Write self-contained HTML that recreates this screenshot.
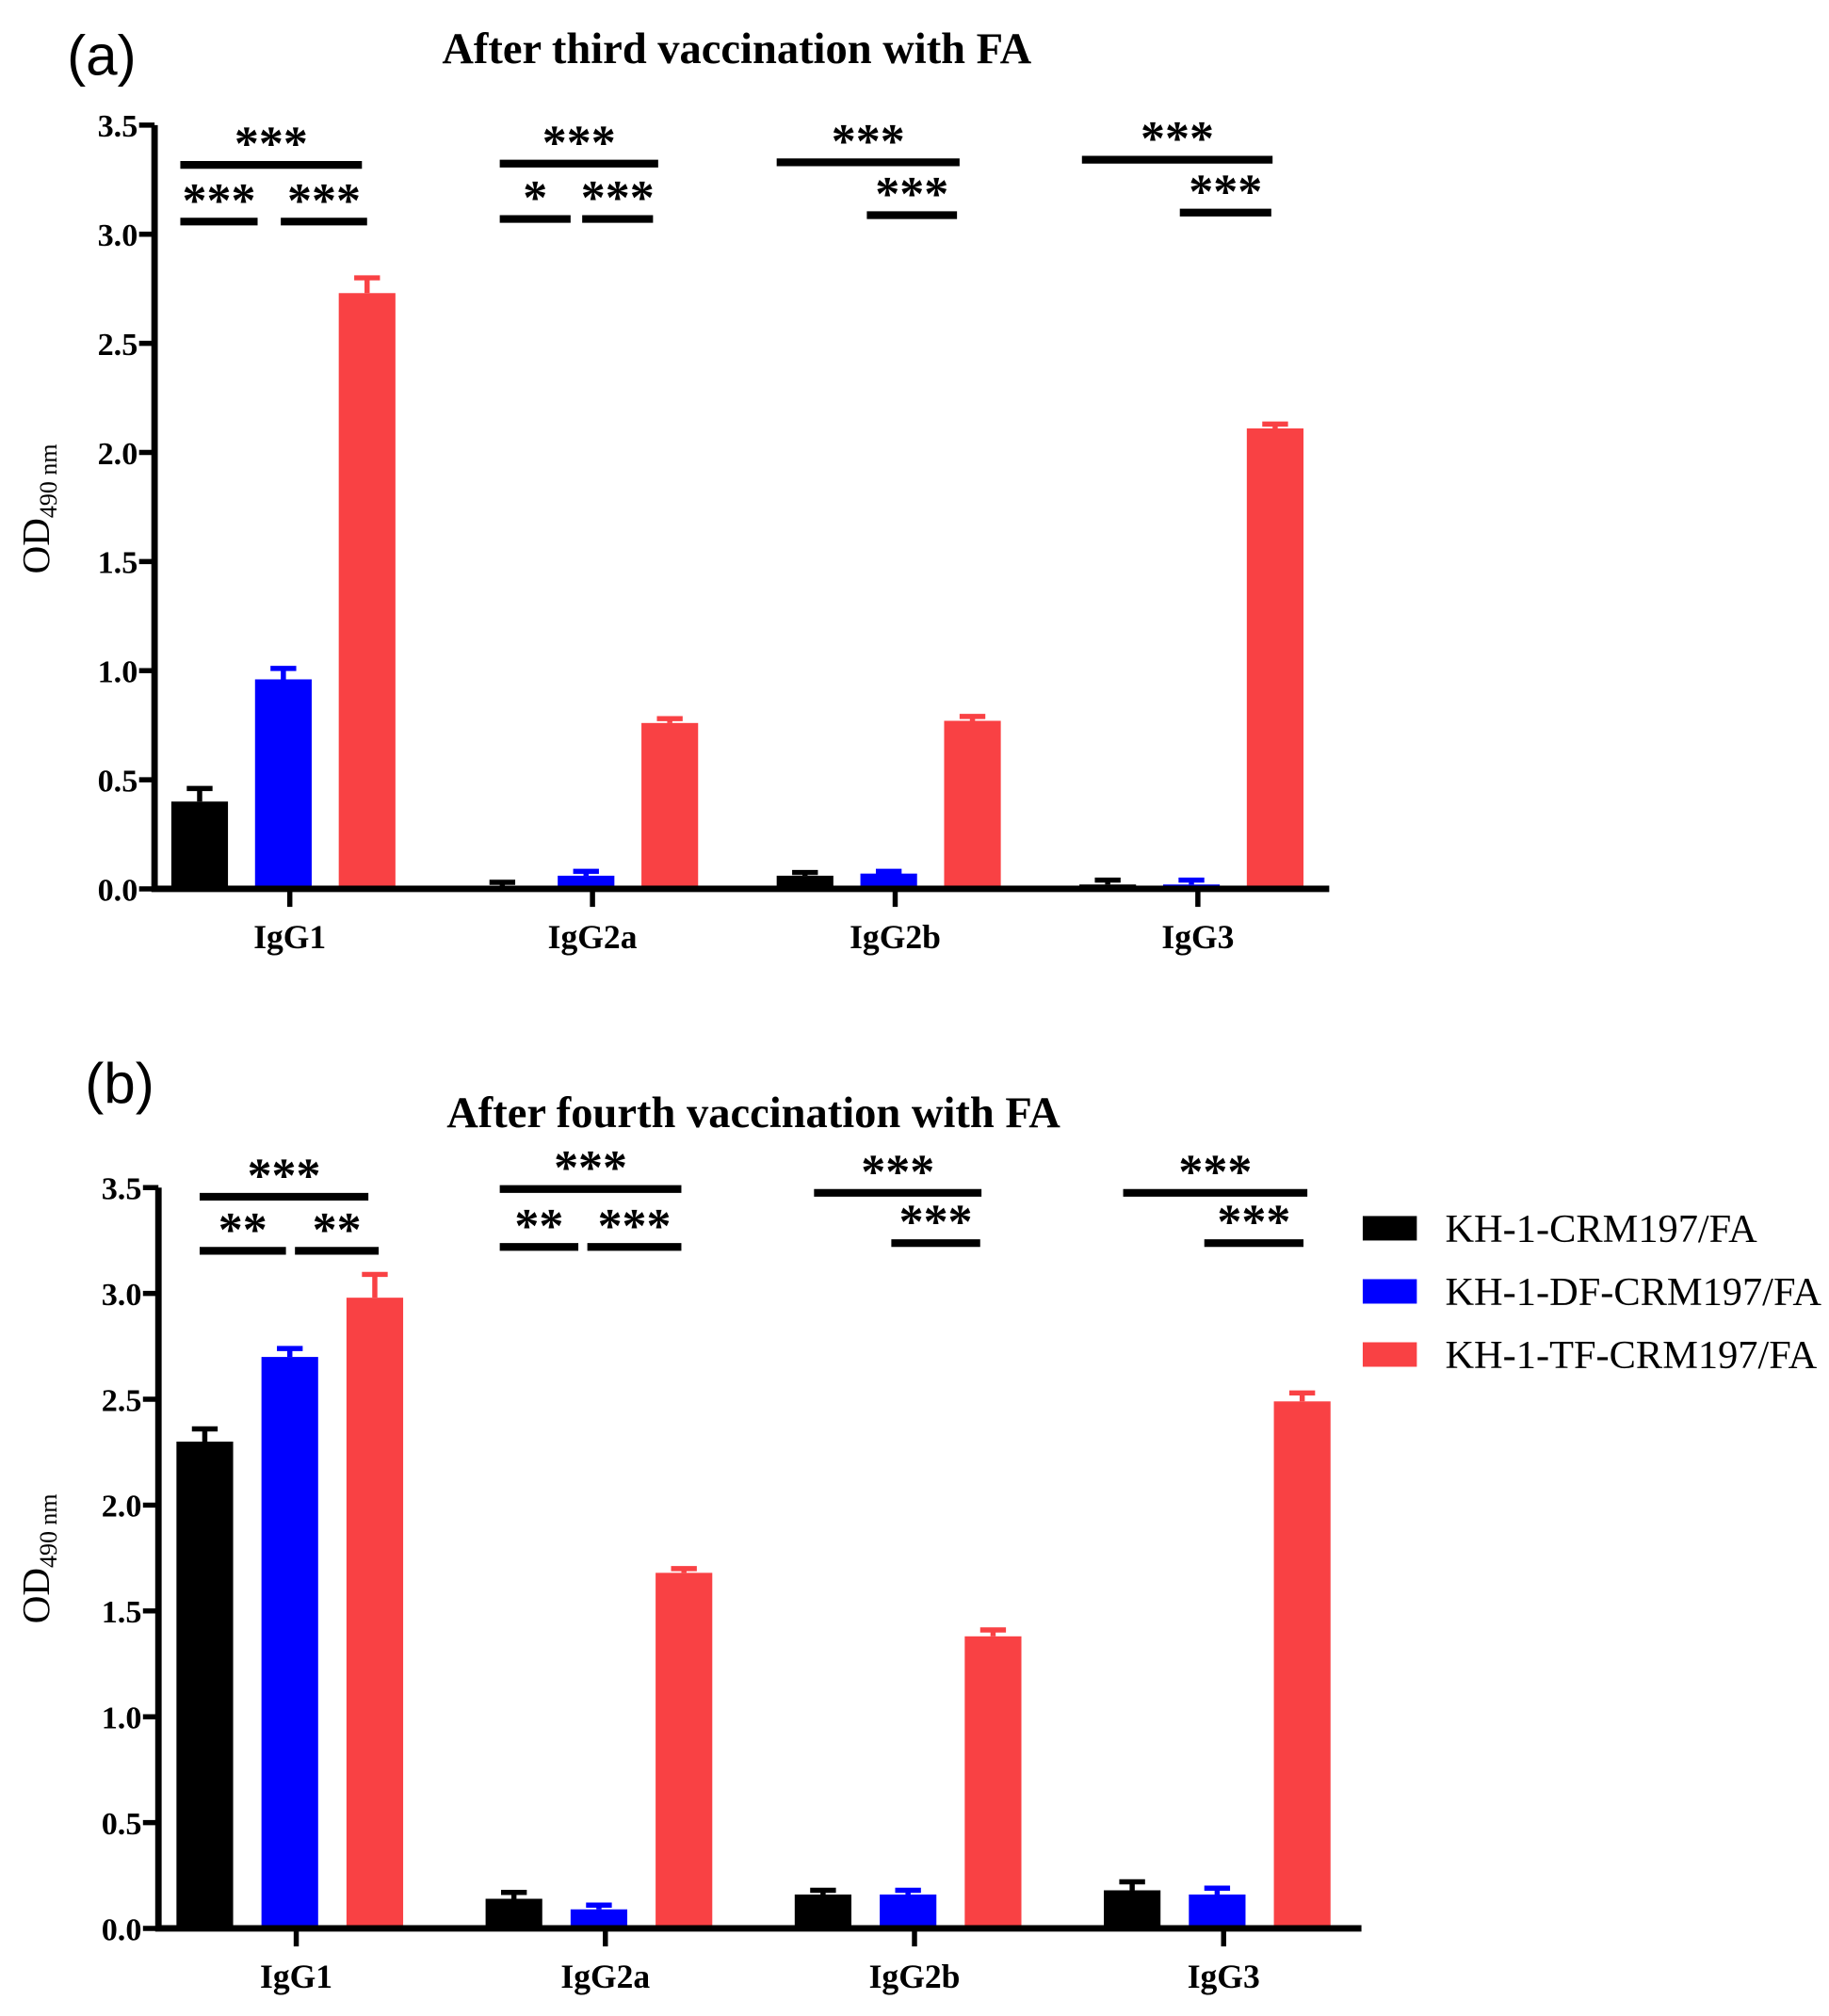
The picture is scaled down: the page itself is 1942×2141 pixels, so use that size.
<!DOCTYPE html>
<html><head><meta charset="utf-8"><style>
html,body{margin:0;padding:0;background:#fff;}
svg{display:block;}
text{font-family:"Liberation Serif",serif;}
</style></head><body>
<svg id="fig" width="1942" height="2141" viewBox="0 0 1420 1565" preserveAspectRatio="none" xmlns="http://www.w3.org/2000/svg">
<text x="52" y="58" font-size="44" style="font-family:'Liberation Sans',sans-serif">(a)</text>
<text x="572" y="49" text-anchor="middle" font-size="34" font-weight="bold">After third vaccination with FA</text>
<text x="66" y="856" font-size="44" style="font-family:'Liberation Sans',sans-serif">(b)</text>
<text x="585" y="875" text-anchor="middle" font-size="34" font-weight="bold">After fourth vaccination with FA</text>
<g id="pa"></g>
<g id="pb"></g>
<g>
<rect x="1058" y="944" width="42" height="19" fill="#000"/>
<text x="1122" y="964" font-size="31">KH-1-CRM197/FA</text>
<rect x="1058" y="993" width="42" height="19" fill="#0000ff"/>
<text x="1122" y="1013" font-size="31">KH-1-DF-CRM197/FA</text>
<rect x="1058" y="1042" width="42" height="19" fill="#f94144"/>
<text x="1122" y="1062" font-size="31">KH-1-TF-CRM197/FA</text>
</g>
</svg>
<script>
const categories = ["IgG1","IgG2a","IgG2b","IgG3"];
const yTicks = ["0.0","0.5","1.0","1.5","2.0","2.5","3.0","3.5"];
const seriesNames = ["KH-1-CRM197/FA","KH-1-DF-CRM197/FA","KH-1-TF-CRM197/FA"];
const aCRM = [0.40,0.01,0.06,0.02];
const aCRMerr = [0.06,0.02,0.015,0.02];
const aDF = [0.96,0.06,0.07,0.02];
const aDFerr = [0.05,0.02,0.01,0.02];
const aTF = [2.73,0.76,0.77,2.11];
const aTFerr = [0.07,0.02,0.02,0.02];
const bCRM = [2.30,0.14,0.16,0.18];
const bCRMerr = [0.06,0.03,0.02,0.04];
const bDF = [2.70,0.09,0.16,0.16];
const bDFerr = [0.04,0.02,0.02,0.03];
const bTF = [2.98,1.68,1.38,2.49];
const bTFerr = [0.11,0.02,0.03,0.04];
const colors = ["#000000","#0000ff","#f94144"];
const NS="http://www.w3.org/2000/svg";
function mk(tag, attrs, parent){const e=document.createElementNS(NS,tag);for(const k in attrs)e.setAttribute(k,attrs[k]);parent.appendChild(e);return e;}

function drawPanel(g, cfg, vals, errs, sig){
  const y = v => cfg.y0 - v*cfg.unit;
  const xc = i => cfg.c0 + i*cfg.step;
  const offs=[-cfg.off,0,cfg.off];
  for(let s=0;s<3;s++){
    for(let i=0;i<categories.length;i++){
      const cx=xc(i)+offs[s], v=vals[s][i], e=errs[s][i];
      const r=mk('rect',{x:cx-22,y:y(v),width:44,height:cfg.y0-y(v),fill:colors[s]},g);
      
      
      const el=mk('path',{d:`M${cx},${y(v)}V${y(v+e)}M${cx-10},${y(v+e)}H${cx+10}`,stroke:colors[s],'stroke-width':4,fill:'none'},g);
      
      
    }
  }
  const ax=mk('path',{d:`M${cfg.ax},${y(3.5)}V${cfg.y0}H${cfg.xend}`,stroke:'#000','stroke-width':5,fill:'none'},g);
  
  
  yTicks.forEach((t,k)=>{
    const v=parseFloat(t);
    mk('path',{d:`M${cfg.ax-12},${y(v)}H${cfg.ax}`,stroke:'#000','stroke-width':4},g);
    const tx=mk('text',{x:cfg.ax-13,y:y(v)+9,'text-anchor':'end','font-size':25,'font-weight':'bold'},g);
    tx.textContent=t;
    
    
  });
  categories.forEach((c,i)=>{
    mk('path',{d:`M${xc(i)+5},${cfg.y0}V${cfg.y0+14}`,stroke:'#000','stroke-width':4},g);
    const tx=mk('text',{x:xc(i)+5,y:cfg.y0+46,'text-anchor':'middle','font-size':26,'font-weight':'bold'},g);
    tx.textContent=c;
    
    
  });
  const yl=mk('text',{transform:`translate(38,${cfg.ylab}) rotate(-90)`,'text-anchor':'middle','font-size':30},g);
  yl.innerHTML='OD<tspan font-size="19" dy="6">490 nm</tspan>';
  
  
  sig.forEach(s=>{
    const l=mk('path',{d:`M${s[0]},${s[2]}H${s[1]}`,stroke:'#000','stroke-width':6},g);
    
    
    const t=mk('text',{x:(s[0]+s[1])/2,y:s[2]-4,'text-anchor':'middle','font-size':38,'font-weight':'bold','font-family':'Liberation Sans,sans-serif'},g);
    t.textContent=s[3];
    
    
  });
}
drawPanel(document.getElementById('pa'),{y0:690,unit:169.4,c0:220,step:235,off:65,ax:120,xend:1032,ylab:395},
  [aCRM,aDF,aTF],[aCRMerr,aDFerr,aTFerr],
  [[140,281,128,"***"],[140,200,172,"***"],[218,285,172,"***"],
   [388,511,127,"***"],[388,443,170,"*"],[452,507,170,"***"],
   [603,745,126,"***"],[673,743,167,"***"],
   [840,988,124,"***"],[916,987,165,"***"]]);
drawPanel(document.getElementById('pb'),{y0:1497,unit:164.3,c0:225,step:240,off:66,ax:123,xend:1057,ylab:1210},
  [bCRM,bDF,bTF],[bCRMerr,bDFerr,bTFerr],
  [[155,286,929,"***"],[155,222,971,"**"],[229,294,971,"**"],
   [388,529,923,"***"],[388,449,968,"**"],[456,529,968,"***"],
   [632,762,926,"***"],[692,761,965,"***"],
   [872,1015,926,"***"],[935,1012,965,"***"]]);
</script>
</body></html>
